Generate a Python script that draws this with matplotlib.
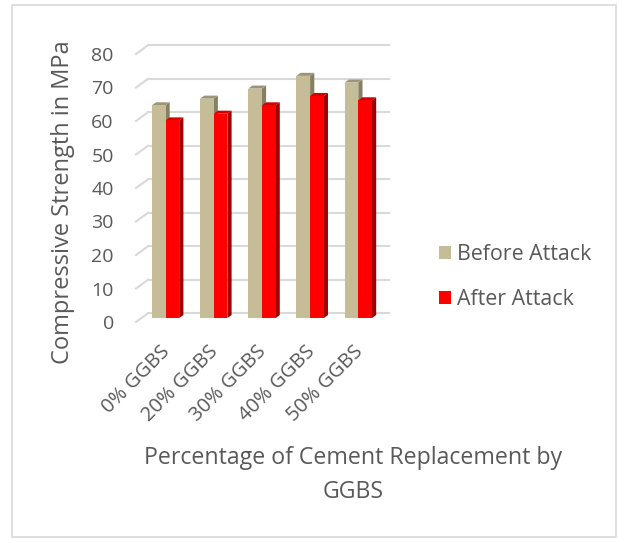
import matplotlib.pyplot as plt
from matplotlib.patches import Polygon, Rectangle, Patch

categories = ["0% GGBS", "20% GGBS", "30% GGBS", "40% GGBS", "50% GGBS"]
before_attack = [63.5, 65.5, 68.5, 72.3, 70.3]
after_attack = [59.0, 61.0, 63.5, 66.3, 65.0]
y_ticks = [0, 10, 20, 30, 40, 50, 60, 70, 80]

TXT = "#595959"
GRID = "#d9d9d9"
# front / side / top shades for the two series
BEFORE_C = ("#c4bd97", "#858063", "#9c9677")
AFTER_C = ("#ff0000", "#a00000", "#d00000")

plt.rcParams["font.family"] = ["Open Sans", "DejaVu Sans"]

W, H = 619, 539
fig = plt.figure(figsize=(W / 100, H / 100), dpi=100)

# border round the chart area
fig.patches.append(Rectangle((12 / W, 2 / H), 604 / W, 532 / H,
                             transform=fig.transFigure, fill=False,
                             edgecolor=GRID, lw=1.2))

ax = fig.add_axes([136 / W, (H - 322) / H, 241 / W, 268 / H])
ax.set_xlim(0, len(categories))
ax.set_ylim(0, 80)
for s in ax.spines.values():
    s.set_visible(False)

# depth of the floor in data units (oblique projection)
DX = 12 / (241 / len(categories))
DY = 8.7 / (268 / 80)

# back wall gridlines and the little diagonal ticks on the left
for v in y_ticks:
    ax.plot([DX, len(categories) + DX], [v + DY, v + DY], color=GRID, lw=1.5,
            clip_on=False, zorder=1)
    ax.plot([0, DX], [v, v + DY], color=GRID, lw=1.5, clip_on=False, zorder=1)


def bar3d(x0, width, val, colors, f0=0.45, f1=0.8):
    ox0, oy0 = f0 * DX, f0 * DY
    ox1, oy1 = f1 * DX, f1 * DY
    x1 = x0 + width
    front = Polygon([(x0 + ox0, oy0), (x1 + ox0, oy0),
                     (x1 + ox0, val + oy0), (x0 + ox0, val + oy0)])
    side = Polygon([(x1 + ox0, oy0), (x1 + ox1, oy1),
                    (x1 + ox1, val + oy1), (x1 + ox0, val + oy0)])
    top = Polygon([(x0 + ox0, val + oy0), (x1 + ox0, val + oy0),
                   (x1 + ox1, val + oy1), (x0 + ox1, val + oy1)])
    for p, c in zip((side, top, front), (colors[1], colors[2], colors[0])):
        p.set_facecolor(c)
        p.set_edgecolor("none")
        p.set_clip_on(False)
        p.set_zorder(3)
        ax.add_patch(p)


bw = 0.284
for i in range(len(categories)):
    c = i + 0.5
    bar3d(c - bw, bw, before_attack[i], BEFORE_C)
    bar3d(c, bw, after_attack[i], AFTER_C)

ax.set_yticks(y_ticks)
ax.set_yticklabels([str(v) for v in y_ticks], fontsize=14, color=TXT)
ax.tick_params(axis="y", length=0, pad=16)
ax.set_xticks([i + 0.5 for i in range(len(categories))])
ax.set_xticklabels(categories, fontsize=14.5, color=TXT, rotation=45,
                   ha="right", va="top", rotation_mode="anchor")
ax.tick_params(axis="x", length=0, pad=14)

fig.text(63 / W, 1 - 202 / H, "Compressive Strength in MPa", rotation=90,
         ha="center", va="center", fontsize=17, color=TXT)
fig.text(353 / W, 1 - 475 / H, "Percentage of Cement Replacement by\nGGBS",
         ha="center", va="center", fontsize=16.7, color=TXT, linespacing=1.55)

handles = [Patch(facecolor=BEFORE_C[0], label="Before Attack"),
           Patch(facecolor=AFTER_C[0], label="After Attack")]
fig.legend(handles=handles, loc="center left",
           bbox_to_anchor=(420 / W, 1 - 277 / H), frameon=False,
           fontsize=15.4, labelcolor=TXT, handlelength=0.55, handleheight=0.55,
           handletextpad=0.3, labelspacing=1.15)

fig.savefig("out.png", dpi=100)
